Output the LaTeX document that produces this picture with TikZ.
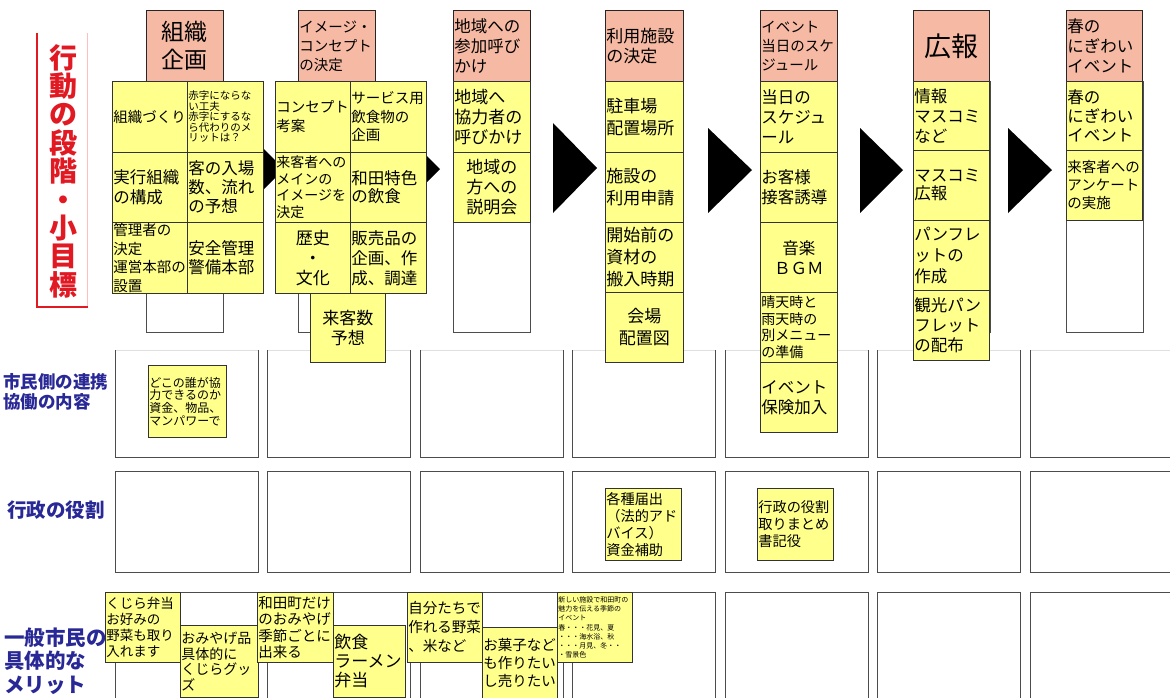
\documentclass[tikz,border=0pt]{standalone}
\usepackage{fontspec}
\setmainfont{Noto Sans CJK JP}
\definecolor{yelc}{RGB}{255,255,140}
\definecolor{hdrc}{RGB}{246,185,163}
\definecolor{navyc}{RGB}{40,40,150}
\definecolor{redc}{RGB}{225,25,35}
\newcommand\fsz[2]{\fontsize{#1}{#2}\selectfont}
\newcommand\bx[7]{\pgfmathsetlengthmacro\bxtw{#5-2}\node[#1, minimum width=#5pt, minimum height=#6pt, text width=\bxtw] (#2) at (#3,#4) {#7};}
\tikzset{
  hdr/.style={draw=black!85, fill=hdrc, line width=0.8pt, inner sep=0pt, anchor=north west, align=left},
  cel/.style={draw=black!80, fill=yelc, line width=0.7pt, inner sep=0pt, anchor=north west, align=left},
  wbox/.style={draw=black!70, fill=white, line width=0.7pt},
  rowln/.style={draw=black!70, line width=0.9pt},
  rowlab/.style={text=navyc, anchor=west, align=left, inner sep=0pt},
  arr/.style={fill=black},
}
\begin{document}
\begin{tikzpicture}[x=1pt,y=-1pt]
\useasboundingbox[fill=white] (0,0) rectangle (1170,697);

% title
\draw[red!25, line width=0.6pt] (87,33) -- (87,307);
\draw[redc, line width=1.6pt] (37,33) -- (37,307) -- (88,307);
\node[text=redc, font=\fsz{28}{28.4}\bfseries, align=center, inner sep=0pt] (title) at (63,171) {行\\動\\の\\段\\階\\・\\小\\目\\標};

% row labels
\node[rowlab, font=\fsz{17.5}{19.5}\bfseries] (labA) at (3,392) {市民側の連携\\協働の内容};
\node[rowlab, font=\fsz{19.5}{22}\bfseries] (labB) at (7,510) {行政の役割};
\node[rowlab, font=\fsz{20.5}{23.5}\bfseries] (labC) at (4,661) {一般市民の\\具体的な\\メリット};

% row boxes
\foreach \i in {0,...,6}{
  \pgfmathsetmacro\xl{115+152.5*\i}
  \draw[black!12, line width=0.6pt] (\xl,350) -- ++(143,0);
  \draw[rowln] (\xl,350) -- (\xl,457) -- ++(143,0) -- ++(0,-107);
  \draw[rowln] (\xl,471) rectangle ++(143,101);
  \draw[rowln] (\xl,720) -- (\xl,592) -- ++(143,0) -- ++(0,128);
}

% column white boxes
\foreach \x in {146,298,453,605,760,913,1066}{
  \draw[wbox] (\x,81) rectangle ++(77,251);
}

% arrows
\fill[arr] (240,125) -- (240,213) -- (284,169) -- cycle;
\fill[arr] (396,125) -- (396,213) -- (440,169) -- cycle;
\fill[arr] (553,123) -- (553,213) -- (597,168) -- cycle;
\fill[arr] (708,128) -- (708,213) -- (752,170) -- cycle;
\fill[arr] (860,128) -- (860,213) -- (903,170) -- cycle;
\fill[arr] (1008,128) -- (1008,213) -- (1052,170) -- cycle;

% headers
\bx{hdr, align=center, font=\fsz{23}{28}}{h1}{146}{10}{77}{71}{組織\\企画}
\bx{hdr, font=\fsz{14.5}{19}}{h2}{298}{10}{77}{71}{イメージ・\\コンセプト\\の決定}
\bx{hdr, font=\fsz{16.5}{20}}{h3}{453}{10}{77}{71}{地域への\\参加呼び\\かけ}
\bx{hdr, font=\fsz{17}{20}}{h4}{605}{10}{78}{71}{利用施設\\の決定}
\bx{hdr, font=\fsz{14.5}{19}}{h5}{760}{10}{77}{71}{イベント\\当日のスケ\\ジュール}
\bx{hdr, align=center, font=\fsz{27}{30}}{h6}{913}{10}{76}{71}{広報}
\bx{hdr, font=\fsz{16.5}{20}}{h7}{1066}{10}{76}{71}{春の\\にぎわい\\イベント}

% column 1
\bx{cel, font=\fsz{14.5}{18}}{c11}{112}{81}{75}{71}{組織づくり}
\bx{cel, font=\fsz{10.5}{10.5}}{c12}{187}{81}{76}{71}{赤字にならな\\い工夫\\赤字にするな\\ら代わりのメ\\リットは？}
\bx{cel, font=\fsz{16.5}{20}}{c21}{112}{152}{75}{70}{実行組織\\の構成}
\bx{cel, font=\fsz{16.5}{19}}{c22}{187}{152}{76}{70}{客の入場\\数、流れ\\の予想}
\bx{cel, font=\fsz{14.5}{18.5}}{c31}{112}{222}{75}{71}{管理者の\\決定\\運営本部の\\設置}
\bx{cel, font=\fsz{16.5}{19}}{c32}{187}{222}{76}{71}{安全管理\\警備本部}

% column 2
\bx{cel, font=\fsz{14.5}{19}}{d11}{275}{81}{75}{71}{コンセプト\\考案}
\bx{cel, font=\fsz{14.5}{18.5}}{d12}{350}{81}{76}{71}{サービス用\\飲食物の\\企画}
\bx{cel, font=\fsz{14}{16.7}}{d21}{275}{152}{75}{70}{来客者への\\メインの\\イメージを\\決定}
\bx{cel, font=\fsz{16.5}{18}}{d22}{350}{152}{76}{70}{和田特色\\の飲食}
\bx{cel, align=center, font=\fsz{17}{20}}{d31}{275}{222}{75}{71}{歴史\\・\\文化}
\bx{cel, font=\fsz{16.5}{20}}{d32}{350}{222}{76}{71}{販売品の\\企画、作\\成、調達}
\bx{cel, align=center, font=\fsz{17}{20}}{d4}{310}{293}{75}{69}{来客数\\予想}

% column 3
\bx{cel, font=\fsz{17}{20}}{e1}{453}{81}{77}{71}{地域へ\\協力者の\\呼びかけ}
\bx{cel, align=center, font=\fsz{17}{20}}{e2}{453}{152}{77}{70}{地域の\\方への\\説明会}

% column 4
\bx{cel, font=\fsz{17}{22}}{f1}{605}{81}{78}{71}{駐車場\\配置場所}
\bx{cel, font=\fsz{17}{22}}{f2}{605}{152}{78}{70}{施設の\\利用申請}
\bx{cel, font=\fsz{17}{22}}{f3}{605}{222}{78}{70}{開始前の\\資材の\\搬入時期}
\bx{cel, align=center, font=\fsz{17}{22}}{f4}{605}{292}{78}{70}{会場\\配置図}

% column 5
\bx{cel, font=\fsz{16.5}{20}}{g1}{760}{81}{77}{71}{当日の\\スケジュ\\ール}
\bx{cel, font=\fsz{16.5}{20}}{g2}{760}{152}{77}{70}{お客様\\接客誘導}
\bx{cel, align=center, font=\fsz{16.5}{20}}{g3}{760}{222}{77}{70}{音楽\\ＢＧＭ}
\bx{cel, font=\fsz{14}{16.5}}{g4}{760}{292}{77}{70}{晴天時と\\雨天時の\\別メニュー\\の準備}
\bx{cel, font=\fsz{16.5}{20}}{g5}{760}{362}{77}{70}{イベント\\保険加入}

% column 6
\bx{cel, font=\fsz{16.5}{20}}{k1}{913}{81}{76}{69}{情報\\マスコミ\\など}
\bx{cel, font=\fsz{16.5}{18}}{k2}{913}{150}{76}{70}{マスコミ\\広報}
\bx{cel, font=\fsz{16.5}{21}}{k3}{913}{220}{76}{70}{パンフレ\\ットの\\作成}
\bx{cel, font=\fsz{16.5}{20}}{k4}{913}{290}{76}{70}{観光パン\\フレット\\の配布}

% column 7
\bx{cel, font=\fsz{16.5}{19}}{m1}{1066}{81}{76}{69}{春の\\にぎわい\\イベント}
\bx{cel, font=\fsz{14.5}{18}}{m2}{1066}{150}{76}{70}{来客者への\\アンケート\\の実施}

% row A note
\bx{cel, font=\fsz{12}{12.7}}{na}{148}{365}{78}{72}{どこの誰が協\\力できるのか\\資金、物品、\\マンパワーで}

% row B notes
\bx{cel, font=\fsz{14.2}{17}}{nb1}{605}{488}{76}{72}{各種届出\\（法的アド\\バイス）\\資金補助}
\bx{cel, font=\fsz{14.2}{17}}{nb2}{757}{488}{76}{72}{行政の役割\\取りまとめ\\書記役}

% row C notes
\bx{cel, font=\fsz{13.5}{16}}{nc1}{105}{592}{75}{70}{くじら弁当\\お好みの\\野菜も取り\\入れます}
\bx{cel, font=\fsz{14}{15.5}}{nc2}{180}{625}{78}{72}{おみやげ品\\具体的に\\くじらグッ\\ズ}
\bx{cel, font=\fsz{14.5}{16.5}}{nc3}{257}{592}{76}{70}{和田町だけ\\のおみやげ\\季節ごとに\\出来る}
\bx{cel, font=\fsz{17}{19}}{nc4}{333}{625}{72}{72}{飲食\\ラーメン\\弁当}
\bx{cel, font=\fsz{14.5}{19}}{nc5}{407}{592}{75}{70}{自分たちで\\作れる野菜\\、米など}
\bx{cel, font=\fsz{14.5}{18}}{nc6}{482}{627}{75}{72}{お菓子など\\も作りたい\\し売りたい}
\bx{cel, font=\fsz{7}{9.2}}{nc7}{557}{592}{75}{70}{新しい施設で和田町の\\魅力を伝える季節の\\イベント\\春・・・花見、夏\\・・・海水浴、秋\\・・・月見、冬・・\\・雪景色}

\end{tikzpicture}
\end{document}
